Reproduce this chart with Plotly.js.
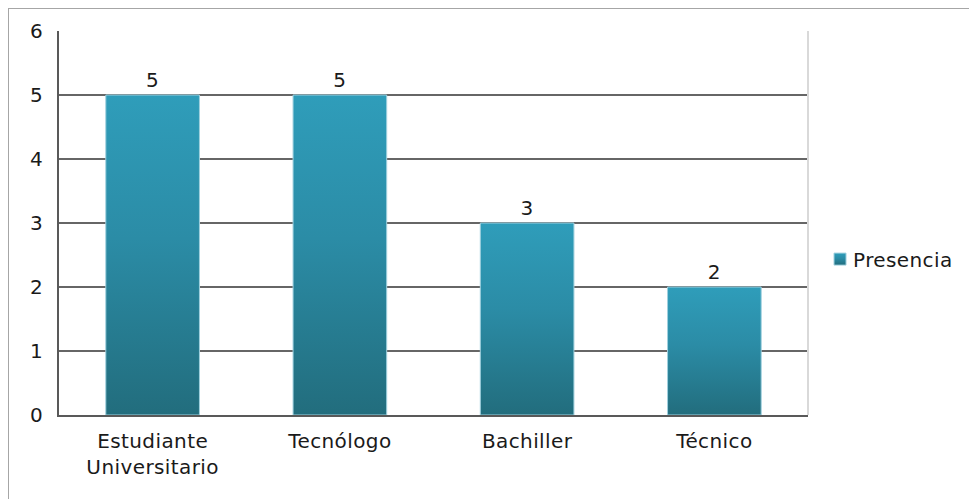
<!DOCTYPE html>
<html>
<head>
<meta charset="utf-8">
<script src="https://cdn.plot.ly/plotly-3.0.1.min.js"></script>
<style>
  html, body { margin: 0; padding: 0; background: #fff; }
  #wrap { position: relative; width: 969px; height: 499px; }
  #frame { position: absolute; left: 8px; top: 8px; right: 0; bottom: 0;
           border-left: 1px solid #a6a6a6; border-top: 1px solid #a6a6a6; pointer-events: none; z-index: 5; }
  #chart { position: absolute; left: 0; top: 0; width: 969px; height: 499px; }
  #chart text { letter-spacing: 0.4px; }
</style>
</head>
<body>
<div id="wrap">
  <div id="chart"></div>
  <div id="frame"></div>
</div>
<script>
const categories = ["Estudiante<br>Universitario", "Tecnólogo", "Bachiller", "Técnico"];
const values = [5, 5, 3, 2];
const seriesName = "Presencia";
const yTicks = [0, 1, 2, 3, 4, 5, 6];

const font = "'DejaVu Sans', Verdana, sans-serif";

const trace = {
  type: "bar",
  x: categories,
  y: values,
  name: seriesName,
  text: values.map(String),
  textposition: "outside",
  cliponaxis: false,
  textfont: { family: font, size: 20, color: "#1a1a1a" },
  marker: { color: "#2a8aa3", line: { color: "#9fd0de", width: 1 } },
  showlegend: true,
  hoverinfo: "none"
};

const layout = {
  width: 969, height: 499,
  margin: { l: 59, r: 161, t: 31, b: 84 },
  paper_bgcolor: "#ffffff",
  plot_bgcolor: "#ffffff",
  font: { family: font, size: 20, color: "#1a1a1a" },
  bargap: 0.5,
  showlegend: true,
  legend: {
    x: 1.0067, y: 0.406, xanchor: "left", yanchor: "middle",
    font: { family: font, size: 20, color: "#1a1a1a" },
    bgcolor: "rgba(0,0,0,0)", itemwidth: 30
  },
  xaxis: {
    type: "category",
    showgrid: false,
    showline: true, linecolor: "#595959", linewidth: 2,
    ticks: "", ticklabelstandoff: 7,
    tickfont: { family: font, size: 20, color: "#1a1a1a" },
    zeroline: false, fixedrange: true
  },
  yaxis: {
    range: [0, 6],
    tickvals: yTicks,
    showgrid: true, gridcolor: "#666666", gridwidth: 2,
    showline: true, linecolor: "#595959", linewidth: 2,
    ticks: "", ticklabelstandoff: 10,
    tickfont: { family: font, size: 20, color: "#1a1a1a" },
    zeroline: false, fixedrange: true
  },
  shapes: [
    { type: "line", xref: "paper", yref: "paper", x0: 1, x1: 1, y0: 0, y1: 1,
      line: { color: "#d9d9d9", width: 2 } }
  ]
};

function applyGradient() {
  const svg = document.querySelector("#chart .main-svg");
  if (!svg) return;
  let defs = svg.querySelector("defs");
  if (!defs) { defs = document.createElementNS("http://www.w3.org/2000/svg", "defs"); svg.insertBefore(defs, svg.firstChild); }
  if (!document.getElementById("barGrad")) {
    const ns = "http://www.w3.org/2000/svg";
    const lg = document.createElementNS(ns, "linearGradient");
    lg.setAttribute("id", "barGrad");
    lg.setAttribute("x1", "0"); lg.setAttribute("y1", "0");
    lg.setAttribute("x2", "0"); lg.setAttribute("y2", "1");
    [["0%", "#2f9dba"], ["45%", "#2b8ca6"], ["100%", "#226d7d"]].forEach(([o, c]) => {
      const s = document.createElementNS(ns, "stop");
      s.setAttribute("offset", o); s.setAttribute("stop-color", c);
      lg.appendChild(s);
    });
    defs.appendChild(lg);
  }
  document.querySelectorAll("#chart .bars .point path").forEach(p => { p.style.fill = "url(#barGrad)"; });
  document.querySelectorAll("#chart .legendpoints").forEach(g => { g.setAttribute("transform", "translate(7,0)"); });
  document.querySelectorAll("#chart .legendpoints path").forEach(p => { p.style.fill = "url(#barGrad)"; p.style.stroke = "#9fd0de"; });
}

Plotly.newPlot("chart", [trace], layout, { displayModeBar: false, staticPlot: true }).then(applyGradient);
</script>
</body>
</html>
